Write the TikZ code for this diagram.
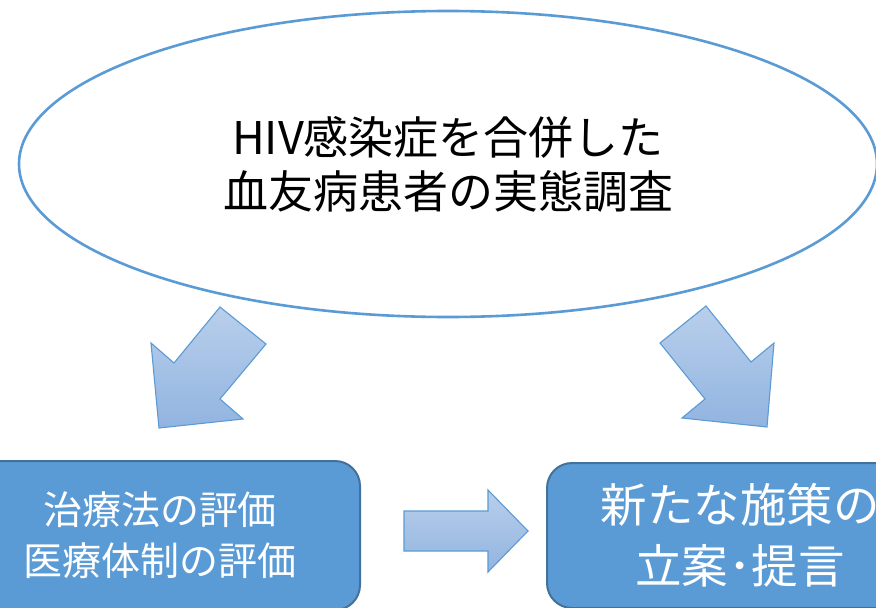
\documentclass[tikz,border=0pt]{standalone}
\usepackage{fontspec}
\newfontfamily\jp{Noto Sans CJK JP}
\usetikzlibrary{shapes.geometric}
\definecolor{accent}{HTML}{5B9BD5}
\definecolor{boxedge}{HTML}{41719C}
\definecolor{arrtop}{HTML}{B9CFEB}
\definecolor{arrbot}{HTML}{91B4E0}
\begin{document}
\begin{tikzpicture}[x=1pt,y=-1pt,
  oval/.style={ellipse, draw=accent, line width=2.6pt, inner sep=0pt,
    minimum width=858pt, minimum height=306pt, align=center,
    font=\jp\fontsize{45}{54}\selectfont, text=black},
  bluebox/.style={rectangle, rounded corners=25pt, draw=boxedge, fill=accent,
    line width=2pt, inner sep=0pt, align=center, text=white},
  blockarrow/.style={draw=accent, line width=1.1pt, top color=arrtop, bottom color=arrbot, line join=miter}]
\useasboundingbox (0,0) rectangle (876,608);
\begin{scope}
\clip (0,0) rectangle (876,608);
\fill[white] (0,0) rectangle (876,608);
\node[oval] (survey) at (448,164) {HIV感染症を合併した\\血友病患者の実態調査};
\node[bluebox, minimum width=400pt, minimum height=149pt,
  font=\jp\fontsize{39}{51}\selectfont] (evaluation) at (160,535.5) {治療法の評価\\医療体制の評価};
\node[bluebox, minimum width=386pt, minimum height=145pt,
  font=\jp\fontsize{46.5}{61}\selectfont] (proposal) at (740,535.5) {新たな施策の\\立案･提言};
% block arrows
\path[blockarrow] (220,307) -- (266,344) -- (220,399) -- (243,419) -- (159,428) -- (151,343) -- (174,363) -- cycle;
\path[blockarrow] (706,306) -- (660,343) -- (705,399) -- (682,418) -- (767,427) -- (774,343) -- (751,362) -- cycle;
\path[blockarrow] (404,511) -- (488,511) -- (488,490) -- (528,531) -- (488,572) -- (488,551) -- (404,551) -- cycle;
\end{scope}
\end{tikzpicture}
\end{document}
